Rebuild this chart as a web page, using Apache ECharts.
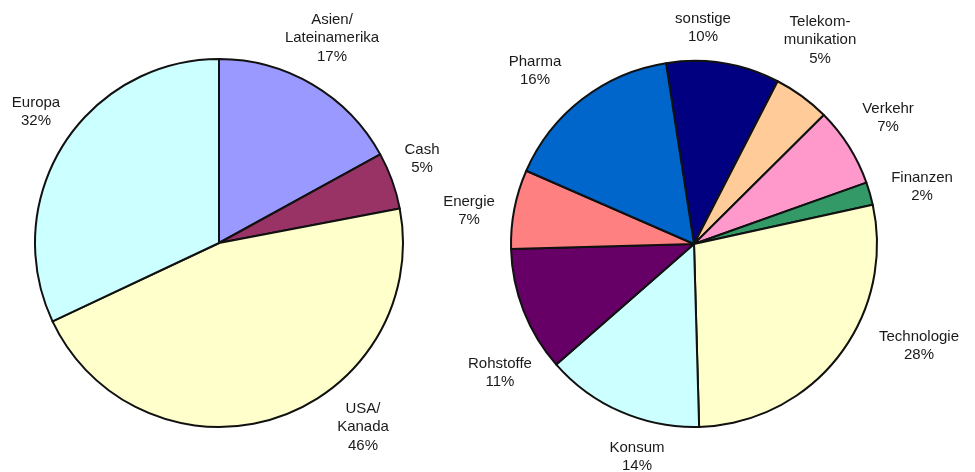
<!DOCTYPE html>
<html>
<head>
<meta charset="utf-8">
<script src="https://cdn.jsdelivr.net/npm/echarts@6/dist/echarts.min.js"></script>
<style>html,body{margin:0;padding:0;background:#fff;}#c{width:975px;height:472px;}</style>
</head>
<body>
<div id="c"></div>
<script>
// ---- Data ----
const regionNames = ['Asien/\nLateinamerika', 'Cash', 'USA/\nKanada', 'Europa'];
const regionValues = [17, 5, 46, 32];
const regionColors = ['#9999ff', '#993366', '#ffffcc', '#ccffff'];

const sectorNames = ['sonstige', 'Telekom-\nmunikation', 'Verkehr', 'Finanzen', 'Technologie', 'Konsum', 'Rohstoffe', 'Energie', 'Pharma'];
const sectorValues = [10, 5, 7, 2, 28, 14, 11, 7, 16];
const sectorColors = ['#000080', '#ffcc99', '#ff99cc', '#339966', '#ffffcc', '#ccffff', '#660066', '#ff8080', '#0066cc'];

// ---- Layout (label offsets from pie centre, px) ----
const leftCenter = [219, 243], leftRadius = 184;
const rightCenter = [694, 244], rightRadius = 183;
const leftLabelOffsets = [[113, -205], [203, -84], [144, 184], [-183, -131]];
const rightLabelOffsets = [[9, -216], [126, -204], [194, -126], [228, -57], [225, 102], [-57, 213], [-194, 129], [-225, -33], [-159, -173]];

function mk(names, values, colors) {
  return names.map((n, i) => ({ name: n, value: values[i], itemStyle: { color: colors[i] } }));
}

const labelStyle = {
  show: true,
  position: 'outside',
  formatter: '{b}\n{c}%',
  fontFamily: 'Liberation Sans, Arial, sans-serif',
  fontSize: 15,
  lineHeight: 18.5,
  color: '#1a1a1a',
  align: 'center'
};

function layoutFn(center, offsets) {
  return function (p) {
    const o = offsets[p.dataIndex];
    return { x: center[0] + o[0], y: center[1] + o[1], align: 'center', verticalAlign: 'middle' };
  };
}

const chart = echarts.init(document.getElementById('c'), null, { renderer: 'canvas' });
chart.setOption({
  backgroundColor: '#ffffff',
  animation: false,
  series: [
    {
      type: 'pie',
      center: leftCenter,
      radius: [0, leftRadius],
      startAngle: 90,
      clockwise: true,
      avoidLabelOverlap: false,
      data: mk(regionNames, regionValues, regionColors),
      itemStyle: { borderColor: '#111', borderWidth: 2 },
      label: labelStyle,
      labelLine: { show: false },
      labelLayout: layoutFn(leftCenter, leftLabelOffsets),
      emphasis: { disabled: true }
    },
    {
      type: 'pie',
      center: rightCenter,
      radius: [0, rightRadius],
      startAngle: 98.8,
      clockwise: true,
      avoidLabelOverlap: false,
      data: mk(sectorNames, sectorValues, sectorColors),
      itemStyle: { borderColor: '#111', borderWidth: 2 },
      label: labelStyle,
      labelLine: { show: false },
      labelLayout: layoutFn(rightCenter, rightLabelOffsets),
      emphasis: { disabled: true }
    }
  ]
});
</script>
</body>
</html>
